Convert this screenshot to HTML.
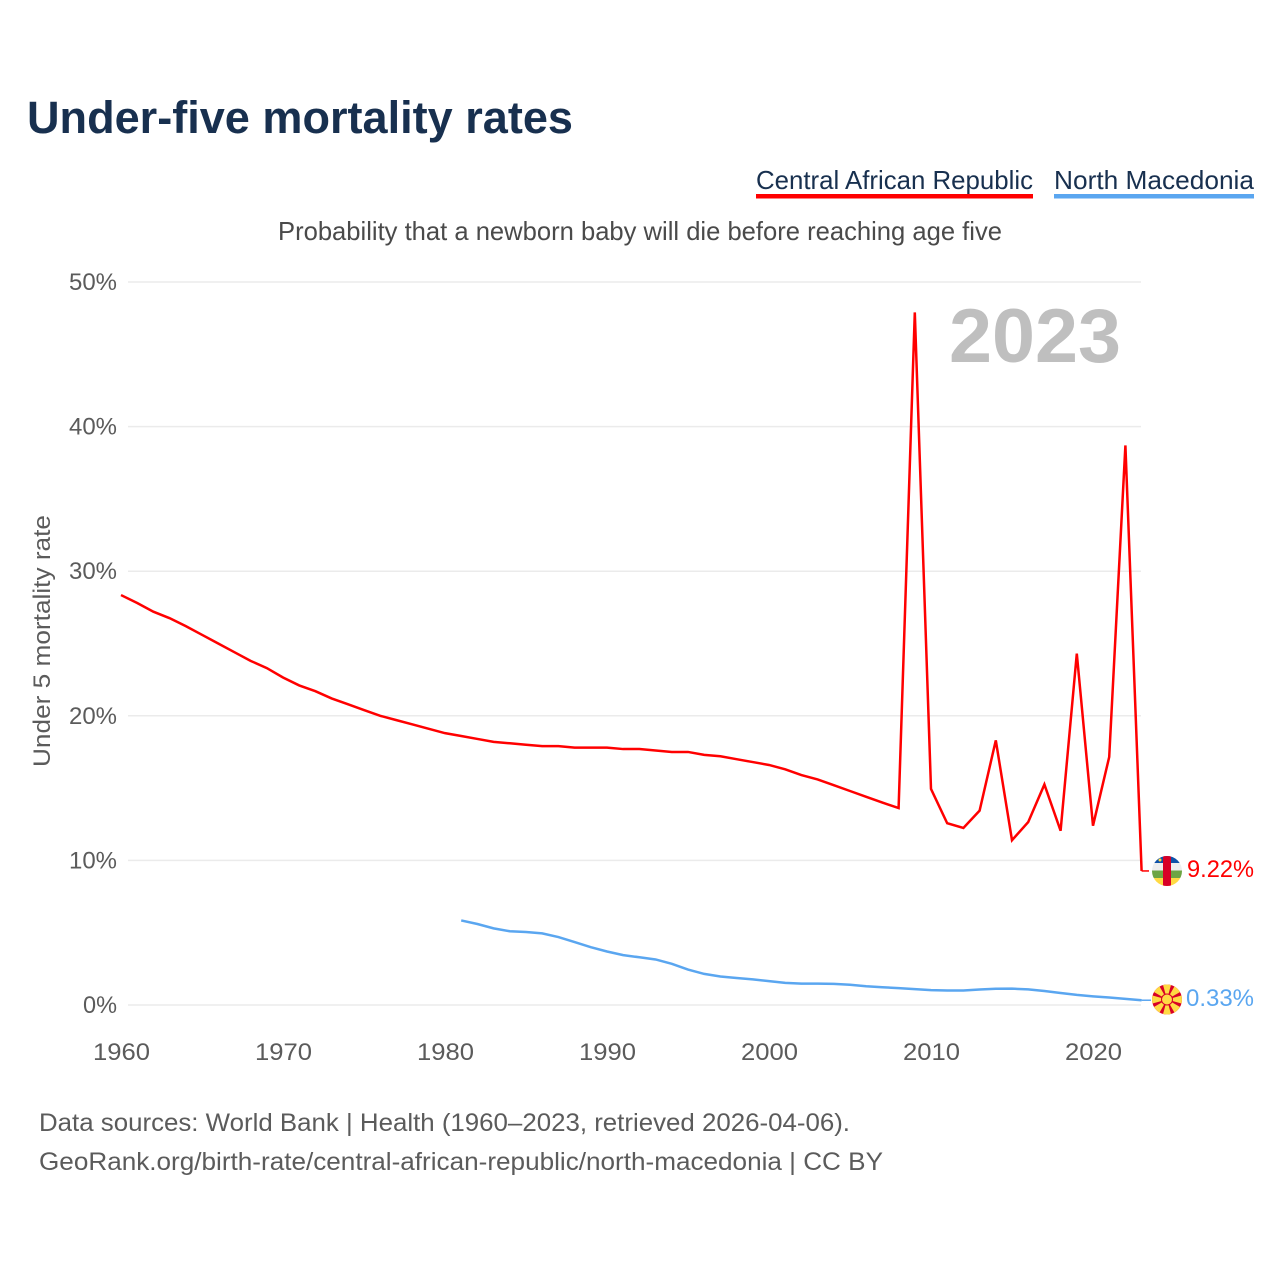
<!DOCTYPE html>
<html lang="en">
<head>
<meta charset="utf-8">
<title>Under-five mortality rates</title>
<style>
html,body{margin:0;padding:0;background:#fff}
svg{display:block}
text{font-family:"Liberation Sans",sans-serif}
</style>
</head>
<body>
<svg id="chart" xmlns="http://www.w3.org/2000/svg" width="1280" height="1280" viewBox="0 0 1280 1280">
  <rect width="1280" height="1280" fill="#fff"/>
  <text x="27" y="133" font-size="45" font-weight="700" fill="#18304f" textLength="546" lengthAdjust="spacingAndGlyphs">Under-five mortality rates</text>

  <g>
    <text x="756" y="189" font-size="26" fill="#18304f" textLength="277" lengthAdjust="spacingAndGlyphs">Central African Republic</text>
    <rect x="756" y="194" width="277" height="4.500" fill="#ff0000"/>
  </g>
  <g>
    <text x="1054" y="189" font-size="26" fill="#18304f" textLength="200" lengthAdjust="spacingAndGlyphs">North Macedonia</text>
    <rect x="1054" y="194" width="200" height="4.500" fill="#5aa6f0"/>
  </g>

  <text x="278" y="240" font-size="26" fill="#4a4a4a" textLength="724" lengthAdjust="spacingAndGlyphs">Probability that a newborn baby will die before reaching age five</text>

  <g id="grid"></g>
  <g id="yticks"></g>
  <g id="xticks"></g>

  <text transform="translate(50,767) rotate(-90)" x="0" y="0" font-size="24" fill="#5b5b5b" textLength="252" lengthAdjust="spacingAndGlyphs">Under 5 mortality rate</text>

  <text x="949" y="362" font-size="76" font-weight="700" fill="#bfbfbf" textLength="172" lengthAdjust="spacingAndGlyphs">2023</text>

  <g id="series"></g>

  <g id="flag-caf">
    <clipPath id="clip-caf"><circle cx="1167" cy="871" r="15"/></clipPath>
    <g clip-path="url(#clip-caf)">
      <rect x="1152" y="856" width="30" height="7" fill="#0f52a8"/>
      <rect x="1152" y="863" width="30" height="7.500" fill="#eeeeee"/>
      <rect x="1152" y="870.500" width="30" height="7.500" fill="#6da544"/>
      <rect x="1152" y="878" width="30" height="8" fill="#ffda44"/>
      <rect x="1163" y="856" width="8" height="30" fill="#d80027"/>
      <circle cx="1160" cy="860" r="1.500" fill="#ffda44"/>
    </g>
  </g>
  <g id="flag-mkd">
    <clipPath id="clip-mkd"><circle cx="1167" cy="999.500" r="15"/></clipPath>
    <g clip-path="url(#clip-mkd)">
      <rect x="1152" y="984" width="30" height="31" fill="#d80027"/>
      <g id="mkd-rays" fill="#ffda44"></g>
      <circle cx="1167" cy="999.500" r="5.500" fill="#ffda44" stroke="#d80027" stroke-width="1"/>
    </g>
  </g>

  <text x="1187" y="877" font-size="24" fill="#ff0000" textLength="67" lengthAdjust="spacingAndGlyphs">9.22%</text>
  <text x="1186" y="1006" font-size="24" fill="#5aa6f0" textLength="68" lengthAdjust="spacingAndGlyphs">0.33%</text>

  <text x="39" y="1131" font-size="25" fill="#5b5b5b" textLength="811" lengthAdjust="spacingAndGlyphs">Data sources: World Bank | Health (1960–2023, retrieved 2026-04-06).</text>
  <text x="39" y="1170" font-size="25" fill="#5b5b5b" textLength="844" lengthAdjust="spacingAndGlyphs">GeoRank.org/birth-rate/central-african-republic/north-macedonia | CC BY</text>
</svg>
<script>
const yTickValues = [0, 10, 20, 30, 40, 50];
const xTickYears = [1960, 1970, 1980, 1990, 2000, 2010, 2020];
const cafStartYear = 1960;
const cafValues = [
  28.35, 27.8, 27.2, 26.75, 26.2, 25.6, 25.0, 24.4, 23.8, 23.3,
  22.65, 22.1, 21.7, 21.2, 20.8, 20.4, 20.0, 19.7, 19.4, 19.1,
  18.8, 18.6, 18.4, 18.2, 18.1, 18.0, 17.9, 17.9, 17.8, 17.8,
  17.8, 17.7, 17.7, 17.6, 17.5, 17.5, 17.3, 17.2, 17.0, 16.8,
  16.6, 16.3, 15.9, 15.6, 15.2, 14.8, 14.4, 14.0, 13.62, 47.9,
  14.94, 12.57, 12.24, 13.44, 18.3, 11.4, 12.65, 15.25, 12.05, 24.3,
  12.4, 17.15, 38.7, 9.27
];
const mkdStartYear = 1981;
const mkdValues = [
  5.85, 5.6, 5.3, 5.1, 5.05, 4.95, 4.7, 4.35, 4.0, 3.7,
  3.45, 3.3, 3.15, 2.85, 2.45, 2.15, 1.97, 1.87, 1.77, 1.65,
  1.53, 1.48, 1.48, 1.46, 1.4, 1.3, 1.23, 1.17, 1.1, 1.03,
  1.0, 1.0, 1.07, 1.12, 1.13, 1.08, 0.97, 0.83, 0.7, 0.6,
  0.52, 0.42, 0.33
];

const NS = 'http://www.w3.org/2000/svg';
function xScale(year) { return 121 + (year - 1960) * 16.2; }
function yScale(v) { return 1005 - v * 14.46; }
function make(tag, attrs, parent) {
  const el = document.createElementNS(NS, tag);
  for (const k in attrs) el.setAttribute(k, attrs[k]);
  parent.appendChild(el);
  return el;
}

const grid = document.getElementById('grid');
const yticks = document.getElementById('yticks');
const xticks = document.getElementById('xticks');
const series = document.getElementById('series');

yTickValues.forEach(function (v) {
  const line = make('line', { x1: 128, x2: 1141, y1: yScale(v), y2: yScale(v), stroke: '#ebebeb', 'stroke-width': 1.5 }, grid);
  
  
  const label = v + '%';
  const t = make('text', { x: 117, y: yScale(v) + 8, 'text-anchor': 'end', 'font-size': 24, fill: '#5b5b5b', textLength: 14 * String(v).length + 20, lengthAdjust: 'spacingAndGlyphs' }, yticks);
  t.textContent = label;
  
  
});

xTickYears.forEach(function (yr) {
  const t = make('text', { x: xScale(yr) + 0.5, y: 1060, 'text-anchor': 'middle', 'font-size': 24, fill: '#5b5b5b', textLength: 57, lengthAdjust: 'spacingAndGlyphs' }, xticks);
  t.textContent = yr;
  
  
});

function linePoints(values, startYear) {
  return values.map(function (v, i) { return xScale(startYear + i).toFixed(2) + ',' + yScale(v).toFixed(2); });
}

const cafLine = make('polyline', { points: linePoints(cafValues, cafStartYear).join(' '), fill: 'none', stroke: '#ff0000', 'stroke-width': 2.5, 'stroke-linejoin': 'miter' }, series);



const cafLast = cafValues[cafValues.length - 1];
const cafStub = make('line', { x1: xScale(cafStartYear + cafValues.length - 1), x2: 1149, y1: yScale(cafLast), y2: yScale(cafLast), stroke: '#ff0000', 'stroke-width': 1.5 }, series);



const mkdLine = make('polyline', { points: linePoints(mkdValues, mkdStartYear).join(' '), fill: 'none', stroke: '#5aa6f0', 'stroke-width': 2.5 }, series);



const mkdLast = mkdValues[mkdValues.length - 1];
const mkdStub = make('line', { x1: xScale(mkdStartYear + mkdValues.length - 1), x2: 1151, y1: yScale(mkdLast), y2: yScale(mkdLast), stroke: '#5aa6f0', 'stroke-width': 1.5 }, series);



const rays = document.getElementById('mkd-rays');
for (let i = 0; i < 8; i++) {
  const ray = make('polygon', { points: '1167,999.5 1162.5,983 1171.5,983', transform: 'rotate(' + (i * 45) + ' 1167 999.5)' }, rays);
  
  
}
</script>
</body>
</html>
